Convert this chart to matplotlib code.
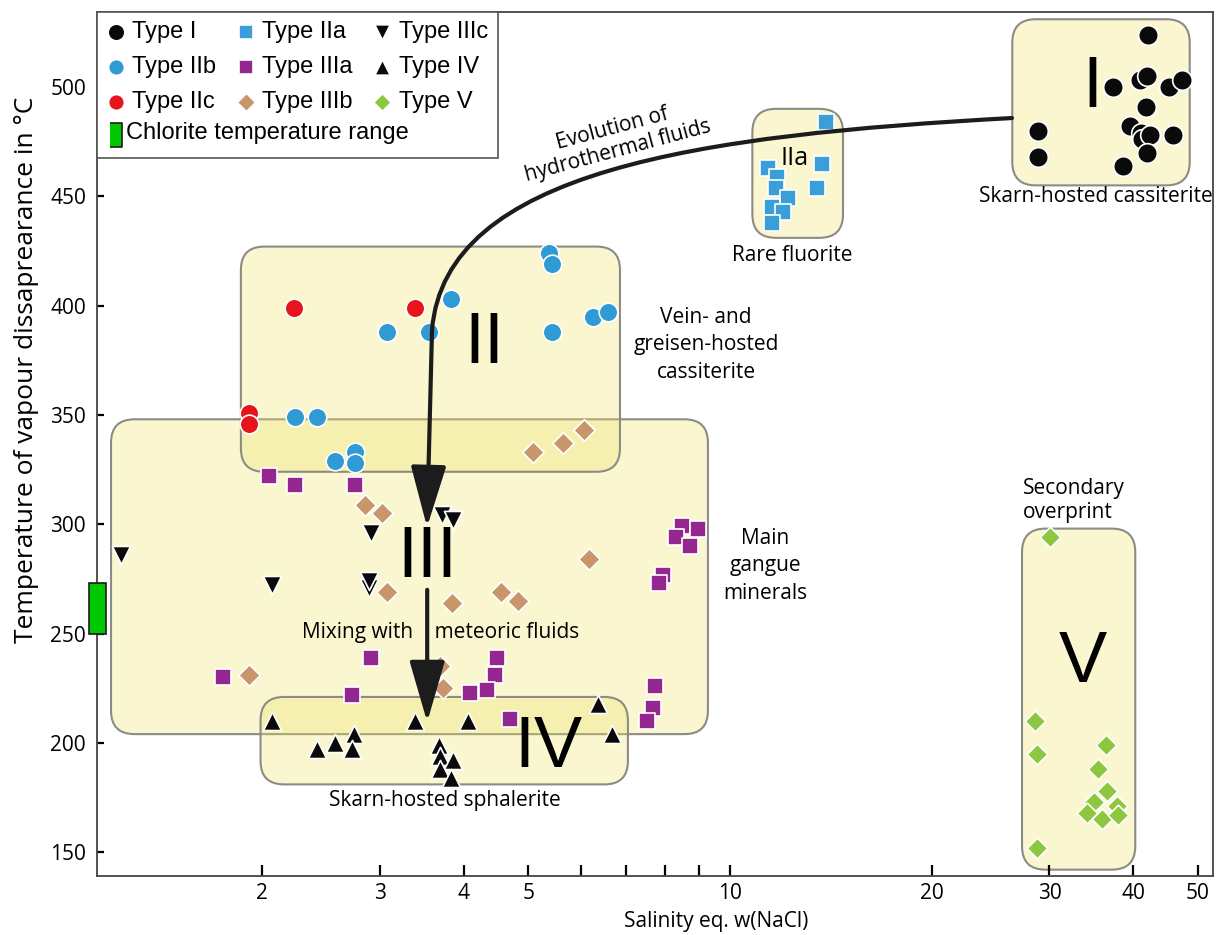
import numpy as np
import matplotlib.pyplot as plt
from matplotlib.patches import FancyBboxPatch, FancyArrowPatch, Rectangle
from matplotlib.path import Path
from matplotlib.lines import Line2D
from matplotlib.ticker import FixedLocator, FixedFormatter, NullFormatter
import matplotlib.transforms as mtransforms

plt.rcParams['font.family'] = ['Open Sans', 'DejaVu Sans']

# salinity (wt% NaCl eq.) and homogenisation temperature (deg C) per inclusion type
type_i_x = [42.1, 37.3, 41.0, 42.0, 45.2, 47.3, 41.8, 28.8, 39.6, 41.1, 41.2, 42.4, 45.9, 41.9, 28.8, 38.6]
type_i_y = [524, 500, 503, 505, 500, 503, 491, 480, 482, 479, 476, 478, 478, 470, 468, 464]

type_iia_x = [13.9, 11.4, 13.7, 11.75, 13.5, 11.7, 12.2, 11.55, 12.0, 11.55]
type_iia_y = [484, 463, 465, 459, 454, 454, 449, 445, 443, 438]

type_iib_x = [5.37, 5.42, 3.83, 3.07, 3.55, 5.42, 6.24, 6.57, 2.24, 2.42, 2.57, 2.75, 2.75]
type_iib_y = [424, 419, 403, 388, 388, 388, 395, 397, 349, 349, 329, 333, 328]

type_iic_x = [2.23, 3.39, 1.91, 1.91]
type_iic_y = [399, 399, 351, 346]

type_iiia_x = [2.05, 2.24, 2.75, 8.48, 8.96, 8.3, 8.72, 7.94, 7.83, 2.91, 1.75, 2.73,
               4.49, 4.46, 4.34, 4.09, 4.69, 7.73, 7.67, 7.52]
type_iiia_y = [322, 318, 318, 299, 298, 294, 290, 277, 273, 239, 230, 222,
               239, 231, 224, 223, 211, 226, 216, 210]

type_iiib_x = [5.08, 5.63, 6.05, 2.85, 3.02, 3.07, 3.85, 4.55, 4.83, 6.16, 1.91, 3.69, 3.73]
type_iiib_y = [333, 337, 343, 309, 305, 269, 264, 269, 265, 284, 231, 235, 225]

type_iiic_x = [1.23, 2.07, 2.91, 2.89, 2.89, 3.72, 3.86]
type_iiic_y = [286, 272, 296, 271, 274, 304, 302]

type_iv_x = [2.07, 2.42, 2.57, 2.74, 2.73, 3.39, 4.06, 3.68, 3.69, 3.86, 3.69, 3.83, 6.35, 6.66]
type_iv_y = [210, 197, 200, 204, 197, 210, 210, 199, 194, 192, 188, 184, 218, 204]

type_v_x = [30.1, 28.5, 28.7, 36.4, 35.4, 36.6, 35.0, 34.1, 35.9, 37.8, 38.0, 28.7]
type_v_y = [294, 210, 195, 199, 188, 178, 173, 168, 165, 171, 167, 152]

chlorite_range = [250, 273]

# grouping fields (salinity range, temperature range)
field_names = ['I', 'IIa', 'III', 'II', 'IV', 'V']
field_x0 = [26.4, 10.8, 1.19, 1.86, 1.99, 27.3]
field_x1 = [48.6, 14.75, 9.27, 6.85, 7.04, 40.3]
field_y0 = [455, 431, 204, 324, 181, 142]
field_y1 = [531, 490, 348, 427, 221, 298]

series = [
    ('Type I', type_i_x, type_i_y, 'o', '#0a0a0a', 200),
    ('Type IIa', type_iia_x, type_iia_y, 's', '#3a9fd8', 140),
    ('Type IIb', type_iib_x, type_iib_y, 'o', '#2f9ad3', 180),
    ('Type IIc', type_iic_x, type_iic_y, 'o', '#e8141b', 180),
    ('Type IIIa', type_iiia_x, type_iiia_y, 's', '#93278f', 140),
    ('Type IIIb', type_iiib_x, type_iiib_y, 'D', '#c8966a', 120),
    ('Type IIIc', type_iiic_x, type_iiic_y, 'v', '#0a0a0a', 170),
    ('Type IV', type_iv_x, type_iv_y, '^', '#0a0a0a', 170),
    ('Type V', type_v_x, type_v_y, 'D', '#8dc63f', 110),
]

fig = plt.figure(figsize=(12.18, 9.35), dpi=100)
ax = fig.add_axes([97 / 1218, 59 / 935, 1116 / 1218, 864 / 935])
ax.set_xscale('log')
ax.set_xlim(1.134, 52.65)
ax.set_ylim(139.1, 534.3)

# rounded fields
to_axes = ax.transData + ax.transAxes.inverted()
aspect = 1116 / 864
for name, x0, x1, y0, y1 in zip(field_names, field_x0, field_x1, field_y0, field_y1):
    (ax0, ay0), (ax1, ay1) = to_axes.transform([(x0, y0), (x1, y1)])
    box = FancyBboxPatch((ax0, ay0), ax1 - ax0, ay1 - ay0,
                         boxstyle='round,pad=0,rounding_size=0.021',
                         mutation_aspect=aspect, transform=ax.transAxes,
                         facecolor=(0.93, 0.89, 0.40, 0.3),
                         edgecolor='#8c8c84', linewidth=1.5, zorder=1)
    ax.add_patch(box)

for label, xs, ys, marker, color, size in series:
    ax.scatter(xs, ys, marker=marker, s=size, c=color, edgecolors='white',
               linewidths=1.2, zorder=3, label=label)

# chlorite range bar on the y axis
chl = Rectangle((-0.007, chlorite_range[0]), 0.015, chlorite_range[1] - chlorite_range[0],
                transform=mtransforms.blended_transform_factory(ax.transAxes, ax.transData),
                facecolor='#00c800', edgecolor='#1a1a1a', linewidth=1.2,
                clip_on=False, zorder=5)
ax.add_patch(chl)

# arrows
curve = Path([(26.37, 485.8), (9.02, 478.0), (3.753, 462.0), (3.589, 388.8), (3.528, 298.7)],
             [Path.MOVETO, Path.CURVE4, Path.CURVE4, Path.CURVE4, Path.LINETO])
arr1 = FancyArrowPatch(path=curve, arrowstyle='-|>,head_length=1.9,head_width=0.55',
                       mutation_scale=20, linewidth=3, color='#1c1c1c', zorder=4)
ax.add_patch(arr1)
arr2 = FancyArrowPatch((3.53, 270), (3.53, 209.5), arrowstyle='-|>,head_length=1.9,head_width=0.55',
                       mutation_scale=20, linewidth=3, color='#1c1c1c', zorder=4,
                       shrinkA=0, shrinkB=0)
ax.add_patch(arr2)

# field numerals
roman = dict(family=['Liberation Sans', 'DejaVu Sans'], fontsize=52, ha='center', va='center', zorder=6)
ax.text(34.8, 499.5, 'I', **roman)
ax.text(4.29, 382.4, 'II', **roman)
ax.text(3.53, 284.1, 'III', **roman)
ax.text(5.35, 197.6, 'IV', **roman)
ax.text(33.7, 236.5, 'V', **roman)
ax.text(12.5, 467.5, 'IIa', fontsize=18, ha='center', va='center', zorder=6)

note = dict(fontsize=15, ha='center', va='center', zorder=6)
ax.text(35.2, 450.1, 'Skarn-hosted cassiterite', **note)
ax.text(12.38, 422.7, 'Rare fluorite', **note)
ax.text(9.21, 382.0, 'Vein- and\ngreisen-hosted\ncassiterite', linespacing=1.4, **note)
ax.text(11.28, 280.9, 'Main\ngangue\nminerals', linespacing=1.4, **note)
ax.text(3.70, 250.7, 'Mixing with    meteoric fluids', **note)
ax.text(3.75, 173.8, 'Skarn-hosted sphalerite', **note)
ax.text(27.4, 311, 'Secondary\noverprint', fontsize=15, ha='left', va='center',
        linespacing=1.2, zorder=6)
ax.text(6.73, 475.8, 'Evolution of\nhydrothermal fluids', fontsize=15, ha='center',
        va='center', rotation=15, rotation_mode='anchor', linespacing=1.15, zorder=6)

# axes styling
ax.xaxis.set_major_locator(FixedLocator([2, 3, 4, 5, 10, 20, 30, 40, 50]))
ax.xaxis.set_major_formatter(FixedFormatter(['2', '3', '4', '5', '10', '20', '30', '40', '50']))
ax.xaxis.set_minor_locator(FixedLocator([6, 7, 8, 9]))
ax.xaxis.set_minor_formatter(NullFormatter())
ax.set_yticks([150, 200, 250, 300, 350, 400, 450, 500])
ax.tick_params(axis='x', which='both', direction='in', length=8, width=1.6,
               labelsize=15, pad=5)
ax.tick_params(axis='y', which='both', direction='in', length=5, width=1.6,
               labelsize=15, pad=8)
for sp in ax.spines.values():
    sp.set_linewidth(1.3)
    sp.set_color('#444444')

ax.set_xlabel('Salinity eq. w(NaCl)', fontsize=15)
ax.xaxis.set_label_coords(0.555, -0.041)
ax.set_ylabel('Temperature of vapour dissaprearance in °C', fontsize=19)
ax.yaxis.set_label_coords(-0.052, 0.586)

# legend
handles, labels = ax.get_legend_handles_labels()
order = ['Type I', 'Type IIb', 'Type IIc', None, 'Type IIa', 'Type IIIa', 'Type IIIb',
         'Type IIIc', 'Type IV', 'Type V']
lookup = dict(zip(labels, handles))
chl_handle = Line2D([], [], linestyle='none', marker=[(-0.5, -1), (0.5, -1), (0.5, 1), (-0.5, 1)],
                    markersize=21, markerfacecolor='#00c800', markeredgecolor='#1a1a1a',
                    markeredgewidth=1.2)
leg_handles = [lookup[k] if k else chl_handle for k in order]
leg_labels = [k if k else '' for k in order]
leg = ax.legend(leg_handles, leg_labels, ncol=3, loc='upper left', bbox_to_anchor=(0, 1),
                borderaxespad=0, fancybox=False, edgecolor='#555555', framealpha=1,
                prop=dict(family=['Liberation Sans', 'DejaVu Sans'], size=17),
                handlelength=0.8, handletextpad=0.3, columnspacing=0.85,
                labelspacing=0.55, borderpad=0.4, markerscale=0.85)
leg.set_zorder(10)
leg.get_frame().set_linewidth(1.2)
ax.text(0.026, 0.86, 'Chlorite temperature range', transform=ax.transAxes,
        family=['Liberation Sans', 'DejaVu Sans'], fontsize=17, va='center', zorder=11)

fig.savefig('out.png', dpi=100)
